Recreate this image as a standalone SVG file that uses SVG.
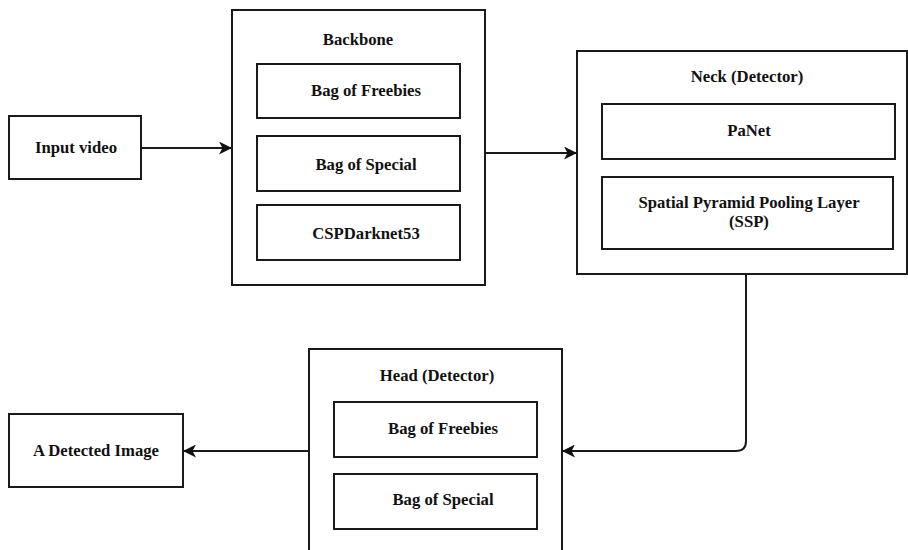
<svg xmlns="http://www.w3.org/2000/svg" width="908" height="550" viewBox="0 0 908 550">
<defs>
<style>
.box{fill:#fff;stroke:#1a1a1a;stroke-width:2}
.t{font-family:"Liberation Serif","DejaVu Serif",serif;font-weight:bold;font-size:16.7px;fill:#111;text-anchor:middle;dominant-baseline:central}
.c{fill:none;stroke:#1a1a1a;stroke-width:2}
</style>
<marker id="ah" viewBox="0 0 13 13" refX="12" refY="6.5" markerWidth="13" markerHeight="13" markerUnits="userSpaceOnUse" orient="auto">
<path d="M0,0 L13,6.5 L0,13 L3.5,6.5 Z" fill="#111"/>
</marker>
</defs>
<rect width="908" height="550" fill="#fff"/>
<g id="input">
<rect class="box" x="9" y="116" width="132" height="63"/>
<text class="t" x="76" y="147">Input video</text>
</g>
<g id="backbone">
<rect class="box" x="232" y="10" width="253" height="275"/>
<text class="t" x="358" y="39">Backbone</text>
<rect class="box" x="257" y="64" width="203" height="54"/>
<text class="t" x="366" y="90">Bag of Freebies</text>
<rect class="box" x="257" y="136" width="203" height="55"/>
<text class="t" x="366" y="164">Bag of Special</text>
<rect class="box" x="257" y="205" width="203" height="55"/>
<text class="t" x="366" y="233">CSPDarknet53</text>
</g>
<g id="neck">
<rect class="box" x="577" y="51" width="330" height="223"/>
<text class="t" x="747" y="76">Neck (Detector)</text>
<rect class="box" x="602" y="104" width="293" height="55"/>
<text class="t" x="749" y="130">PaNet</text>
<rect class="box" x="602" y="177" width="291" height="72"/>
<text class="t" x="749" y="202">Spatial Pyramid Pooling Layer</text>
<text class="t" x="749" y="221">(SSP)</text>
</g>
<g id="head">
<rect class="box" x="309" y="349" width="253" height="210"/>
<text class="t" x="437" y="375">Head (Detector)</text>
<rect class="box" x="334" y="402" width="203" height="55"/>
<text class="t" x="443" y="428">Bag of Freebies</text>
<rect class="box" x="334" y="474" width="203" height="55"/>
<text class="t" x="443" y="499">Bag of Special</text>
</g>
<g id="output">
<rect class="box" x="9" y="414" width="174" height="73"/>
<text class="t" x="96" y="450">A Detected Image</text>
</g>
<g id="connectors">
<path class="c" d="M141,148 H231" marker-end="url(#ah)"/>
<path class="c" d="M485,153 H576" marker-end="url(#ah)"/>
<path class="c" d="M746,274 V441 Q746,451 736,451 H563" marker-end="url(#ah)"/>
<path class="c" d="M309,451 H184" marker-end="url(#ah)"/>
</g>
</svg>
